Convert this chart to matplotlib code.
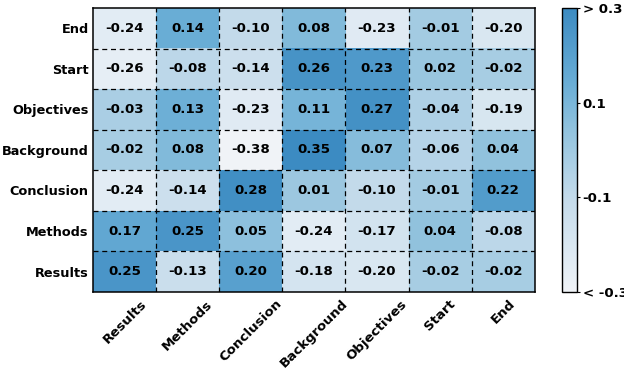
import numpy as np
import matplotlib
matplotlib.use("Agg")
import matplotlib.pyplot as plt
from matplotlib.colors import LinearSegmentedColormap

col_labels = ["Results", "Methods", "Conclusion", "Background", "Objectives", "Start", "End"]
row_labels = ["End", "Start", "Objectives", "Background", "Conclusion", "Methods", "Results"]
values = np.array([
    [-0.24, 0.14, -0.10, 0.08, -0.23, -0.01, -0.20],
    [-0.26, -0.08, -0.14, 0.26, 0.23, 0.02, -0.02],
    [-0.03, 0.13, -0.23, 0.11, 0.27, -0.04, -0.19],
    [-0.02, 0.08, -0.38, 0.35, 0.07, -0.06, 0.04],
    [-0.24, -0.14, 0.28, 0.01, -0.10, -0.01, 0.22],
    [0.17, 0.25, 0.05, -0.24, -0.17, 0.04, -0.08],
    [0.25, -0.13, 0.20, -0.18, -0.20, -0.02, -0.02],
])
cbar_ticks = [0.3, 0.1, -0.1, -0.3]
cbar_ticklabels = ["> 0.3", "0.1", "-0.1", "< -0.3"]

FS = 9.6
plt.rcParams["font.weight"] = "bold"
plt.rcParams["font.size"] = FS

cmap = LinearSegmentedColormap.from_list(
    "b", [(0.0, "#f0f3f7"), (0.1, "#e2ecf4"), (0.33, "#c4dbeb"),
          (0.567, "#92c3de"), (0.733, "#6aaed6"), (1.0, "#3c8bc2")])

fig = plt.figure(figsize=(6.24, 3.68), dpi=100)
ax = fig.add_axes([0.149, 0.207, 0.708, 0.771])
cax = fig.add_axes([0.9006, 0.207, 0.024, 0.771])

im = ax.imshow(values, cmap=cmap, vmin=-0.3, vmax=0.3, aspect="auto")
n_r, n_c = values.shape
for i in range(n_r):
    for j in range(n_c):
        ax.text(j, i, f"{values[i, j]:.2f}", ha="center", va="center",
                fontsize=FS, fontweight="bold", color="black")
for k in range(1, n_c):
    ax.axvline(k - 0.5, color="black", linestyle=(0, (4, 3)), linewidth=0.9)
for k in range(1, n_r):
    ax.axhline(k - 0.5, color="black", linestyle=(0, (4, 3)), linewidth=0.9)

ax.set_xticks(range(n_c))
ax.set_xticklabels(col_labels, rotation=45, ha="center",
                   fontsize=FS, fontweight="bold")
ax.set_yticks(range(n_r))
ax.set_yticklabels(row_labels, fontsize=9.3, fontweight="bold")
ax.tick_params(axis="x", length=0, pad=4)
ax.tick_params(axis="y", length=0, pad=3)
for s in ax.spines.values():
    s.set_linewidth(1.1)

cb = fig.colorbar(im, cax=cax)
cb.set_ticks(cbar_ticks)
cb.set_ticklabels(cbar_ticklabels)
cb.ax.tick_params(labelsize=FS, length=2, pad=2)
for t in cb.ax.get_yticklabels():
    t.set_fontweight("bold")
cb.outline.set_linewidth(1)

fig.savefig("out.png", dpi=100)
